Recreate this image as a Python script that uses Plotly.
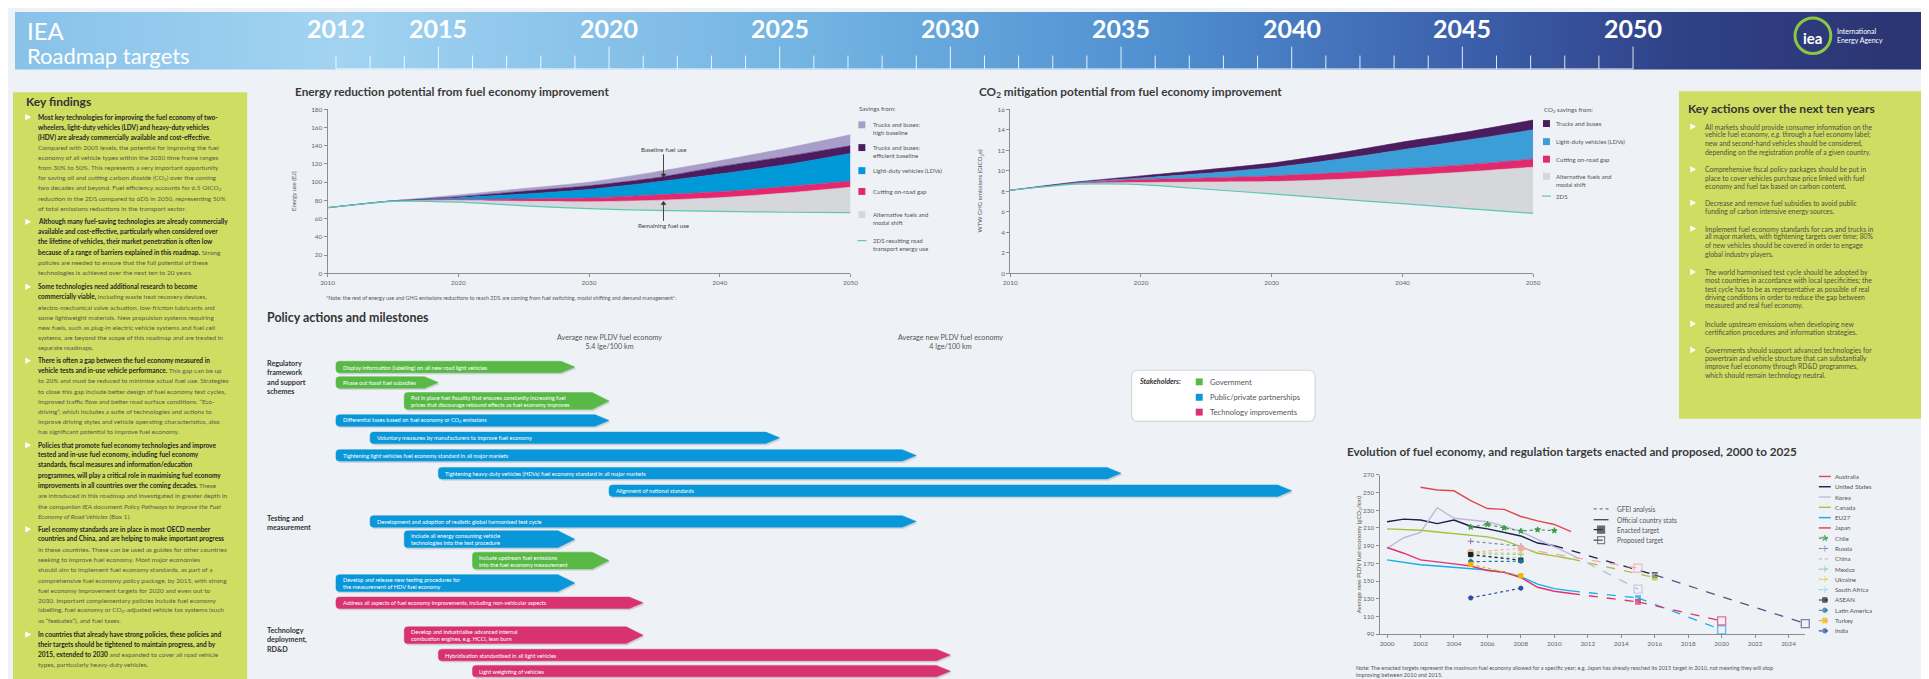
import numpy as np
import plotly.graph_objects as go

W, H = 1929, 679
OFF = 8  # the page body margin shifts the figure by 8px; coordinates below are screen pixels
FONT = "Lato, 'Open Sans', 'DejaVu Sans', sans-serif"
BG = "#eef1f6"


def px(x):
    return (x - OFF) / W


def py(y):
    return 1 - (y - OFF) / H


# ===================== DATA =====================
header_years = [2012, 2015, 2020, 2025, 2030, 2035, 2040, 2045, 2050]

energy_years = [2010, 2015, 2020, 2025, 2030, 2035, 2040, 2045, 2050]
energy_2ds_use = [72, 79, 78, 74, 71, 69, 68, 67, 66.5]
energy_alt_fuels = [0, 0.5, 2, 5, 7.5, 11, 15, 21, 28]
energy_onroad_gap = [0, 0, 1, 2.5, 4, 6, 6.5, 7, 6.5]
energy_ldv = [0, 0, 2, 5.5, 9.5, 14, 19.5, 24, 30.5]
energy_trucks_efficient = [0, 0, 1, 3, 4, 4.5, 8, 9, 8.5]
energy_trucks_high = [0, 0, 2, 3, 4, 6.5, 6.5, 9, 12]

co2_years = [2010, 2015, 2020, 2025, 2030, 2035, 2040, 2045, 2050]
co2_2ds = [8.1, 8.7, 8.65, 8.2, 7.75, 7.25, 6.8, 6.3, 5.85]
co2_alt_fuels = [0, 0.05, 0.2, 0.7, 1.2, 1.9, 2.7, 3.6, 4.5]
co2_onroad_gap = [0, 0.05, 0.3, 0.4, 0.55, 0.65, 0.7, 0.7, 0.8]
co2_ldv = [0, 0.05, 0.15, 0.45, 0.8, 1.3, 1.85, 2.4, 2.85]
co2_trucks = [0, 0.05, 0.2, 0.35, 0.45, 0.6, 0.75, 0.8, 0.95]

policy_actions = [
    "Display information (labelling) on all new road light vehicles",
    "Phase out fossil fuel subsidies",
    "Put in place fuel fiscality that ensures constantly increasing fuel<br>prices that discourage rebound effects as fuel economy improves",
    "Differential taxes based on fuel economy or CO<sub>2</sub> emissions",
    "Voluntary measures by manufacturers to improve fuel economy",
    "Tightening light vehicles fuel economy standard in all major markets",
    "Tightening heavy-duty vehicles (HDVs) fuel economy standard in all major markets",
    "Alignment of national standards",
    "Development and adoption of realistic global harmonised test cycle",
    "Include all energy consuming vehicle<br>technologies into the test procedure",
    "Include upstream fuel emissions<br>into the fuel economy measurement",
    "Develop and release new testing procedures for<br>the measurement of HDV fuel economy",
    "Address all aspects of fuel economy improvements, including non-vehicular aspects",
    "Develop and industrialise advanced internal<br>combustion engines, e.g. HCCI, lean burn",
    "Hybridisation standardised in all light vehicles",
    "Light weighting of vehicles",
]
policy_start = [2012, 2012, 2014, 2012, 2013, 2012, 2015, 2020, 2013, 2014, 2016, 2012, 2012, 2014, 2015, 2016]
policy_end = [2019, 2015, 2020, 2020, 2025, 2029, 2035, 2040, 2029, 2019, 2020, 2019, 2021, 2021, 2030, 2030]
policy_stakeholder = ["Government", "Government", "Government", "Public/private partnerships",
                      "Public/private partnerships", "Public/private partnerships",
                      "Public/private partnerships", "Public/private partnerships",
                      "Public/private partnerships", "Public/private partnerships", "Government",
                      "Public/private partnerships", "Technology improvements",
                      "Technology improvements", "Technology improvements", "Technology improvements"]
policy_groups = ["Regulatory<br>framework<br>and support<br>schemes", "Testing and<br>measurement",
                 "Technology<br>deployment,<br>RD&amp;D"]
pldv_target_years = [2020, 2030]
pldv_target_text = ["Average new PLDV fuel economy<br>5.4 lge/100 km", "Average new PLDV fuel economy<br>4 lge/100 km"]

# Evolution of fuel economy (gCO2/km)
aus_years = [2002, 2003, 2004, 2005, 2006, 2007, 2008, 2009, 2010, 2011]
aus_gco2 = [256, 253, 252, 241, 232, 231, 223, 218, 214, 206]
usa_years = [2000, 2001, 2002, 2003, 2004, 2005, 2006, 2007, 2008, 2009, 2010]
usa_gco2 = [217, 220, 219, 215, 219, 212, 209, 205, 201, 193, 190]
kor_years = [2000, 2001, 2002, 2003, 2004, 2005, 2006, 2007, 2008, 2009, 2010, 2011]
kor_gco2 = [187, 199, 205, 233, 221, 219, 217, 212, 206, 197, 189, 180]
can_years = [2000, 2001, 2002, 2003, 2004, 2005, 2006, 2007, 2008, 2009, 2010, 2011]
can_gco2 = [209, 208, 207.5, 205.5, 203.5, 201.5, 200, 196, 189, 181.5, 178.5, 175]
eu_years = [2000, 2001, 2002, 2003, 2004, 2005, 2006, 2007, 2008, 2009, 2010, 2011]
eu_gco2 = [174, 171.5, 168.5, 167, 165.5, 164.5, 162.5, 160, 155, 146.5, 141.5, 139]
jpn_years = [2000, 2001, 2002, 2003, 2004, 2005, 2006, 2007, 2008, 2009, 2010, 2011]
jpn_gco2 = [188, 181.5, 174, 172, 169.5, 167, 162, 160, 154, 143, 138.5, 136]

chile_years = [2005, 2006, 2007, 2008, 2009, 2010]
chile_gco2 = [211, 214, 210, 206.5, 208, 207]
gfei_years = [2005, 2008]
russia_gco2 = [195, 189.5]
china_gco2 = [182.5, 187]
mexico_gco2 = [181, 180]
ukraine_gco2 = [182, 181.5]
south_africa_gco2 = [178.5, 176.5]
asean_gco2 = [180, 173.5]
latam_gco2 = [172, 172.5]
turkey_gco2 = [169, 156]
india_gco2 = [131, 142]

enacted_names = ["United States", "Canada", "EU27", "Japan"]
enacted_years = [2016, 2016, 2015, 2015]
enacted_gco2 = [157, 154, 131, 126.5]
proposed_names = ["United States", "Korea", "EU27", "Japan", "China"]
proposed_years = [2025, 2015, 2020, 2020, 2015]
proposed_gco2 = [102, 141, 95, 105, 164.5]

evo_names = ["Australia", "United States", "Korea", "Canada", "EU27", "Japan", "Chile", "Russia", "China",
             "Mexico", "Ukraine", "South Africa", "ASEAN", "Latin America", "Turkey", "India"]

# ===================== STYLES =====================
evo_colors = {"Australia": "#e2474f", "United States": "#1d1f4b", "Korea": "#bdbbdc", "Canada": "#a3c23d",
              "EU27": "#1aade4", "Japan": "#e2336f", "Chile": "#3a9a4c", "Russia": "#8581b0",
              "China": "#f5a9b0", "Mexico": "#8fcfb0", "Ukraine": "#d2dc50", "South Africa": "#97d6f3",
              "ASEAN": "#1e1e1e", "Latin America": "#1d7395", "Turkey": "#f6b400", "India": "#2d4f9f"}
evo_markers = {"Chile": "star", "Russia": "cross-thin-open", "China": None, "Mexico": "cross-thin-open",
               "Ukraine": "cross-thin-open", "South Africa": "cross-thin-open", "ASEAN": "square",
               "Latin America": "circle", "Turkey": "square", "India": "circle"}
stake_colors = {"Government": "#58b947", "Public/private partnerships": "#0a97d9",
                "Technology improvements": "#d83270"}

fig = go.Figure()
shapes = []
annotations = []


def ann(x, y, text, size=7.0, color="#444", xanchor="left", yanchor="middle", xref="paper", yref="paper",
        family=FONT, **kw):
    d = dict(x=px(x) if xref == "paper" else x, y=py(y) if yref == "paper" else y, xref=xref, yref=yref,
             text=text, showarrow=False, font=dict(size=size, color=color, family=family),
             xanchor=xanchor, yanchor=yanchor, align="left", borderpad=0)
    d.update(kw)
    annotations.append(d)


def prect(x0, y0, x1, y1, color, layer="below", line=None):
    shapes.append(dict(type="rect", xref="paper", yref="paper", x0=px(x0), x1=px(x1), y0=py(y1), y1=py(y0),
                       fillcolor=color, line=line or dict(width=0), layer=layer))


def bullet(x, y):
    path = f"M {px(x - 2.6)},{py(y - 3.2)} L {px(x + 3.2)},{py(y)} L {px(x - 2.6)},{py(y + 3.2)} Z"
    shapes.append(dict(type="path", xref="paper", yref="paper", path=path, fillcolor="white",
                       line=dict(width=0), layer="above"))


# ===================== HEADER =====================
fig.add_trace(go.Scatter(
    x=[OFF, W + OFF, W + OFF, OFF, OFF], y=[OFF, OFF, 66, 66, OFF], xaxis="x", yaxis="y", mode="lines",
    fill="toself", line=dict(width=0, color="rgba(0,0,0,0)"), hoverinfo="skip", showlegend=False,
    fillgradient=dict(type="horizontal", colorscale=[
        [0.0, "#88c2e9"], [0.17, "#a2d3f1"], [0.42, "#72b3e2"], [0.6, "#4f8fd0"],
        [0.75, "#3d62ae"], [0.87, "#2f4187"], [1.0, "#2c3370"]])))

ann(19, 27, "IEA", size=24, color="white")
ann(19, 52, "Roadmap targets", size=22, color="white")
for yr in header_years:
    ann(yr, 24.5, f"<b>{yr}</b>", size=25, color="white", xanchor="center", xref="x2")
shapes.append(dict(type="line", xref="x2", yref="paper", x0=2012, x1=2050, y0=py(65.5), y1=py(65.5),
                   line=dict(color="rgba(255,255,255,0.85)", width=1), layer="above"))
for yr in range(2012, 2051):
    top = 43 if (yr in header_years and yr != 2012) else 52
    shapes.append(dict(type="line", xref="x2", yref="paper", x0=yr, x1=yr, y0=py(65.5), y1=py(top),
                       line=dict(color="rgba(255,255,255,0.85)", width=1), layer="above"))

# IEA logo
shapes.append(dict(type="circle", xref="paper", yref="paper", x0=px(1802), x1=px(1838), y0=py(50), y1=py(14),
                   line=dict(color="#8dc641", width=3), layer="above"))
ann(1820, 34, "<b>iea</b>", size=15, color="white", xanchor="center")
ann(1843, 27, "International", size=7, color="white")
ann(1843, 36, "Energy Agency", size=7, color="white")

# ===================== LEFT PANEL =====================
prect(6, 89, 242, 690, "#cfdd63")
ann(18, 98.5, "<b>Key findings</b>", size=12, color="#333")


def bd(s):
    return f'<span style="color:#262626"><b>{s}</b></span>'


left_bullets = [
    [bd("Most key technologies for improving the fuel economy of two-"),
     bd("wheelers, light-duty vehicles (LDV) and heavy-duty vehicles"),
     bd("(HDV) are already commercially available and cost-effective."),
     "Compared with 2005 levels, the potential for improving the fuel",
     "economy of all vehicle types within the 2030 time frame ranges",
     "from 30% to 50%. This represents a very important opportunity",
     "for saving oil and cutting carbon dioxide (CO<sub>2</sub>) over the coming",
     "two decades and beyond. Fuel efficiency accounts for 6.5 GtCO<sub>2</sub>",
     "reduction in the 2DS compared to 6DS in 2050, representing 50%",
     "of total emissions reductions in the transport sector."],
    [bd("Although many fuel-saving technologies are already commercially"),
     bd("available and cost-effective, particularly when considered over"),
     bd("the lifetime of vehicles, their market penetration is often low"),
     bd("because of a range of barriers explained in this roadmap.") + " Strong",
     "policies are needed to ensure that the full potential of these",
     "technologies is achieved over the next ten to 20 years."],
    [bd("Some technologies need additional research to become"),
     bd("commercially viable,") + " including waste heat recovery devices,",
     "electro-mechanical valve actuation, low-friction lubricants and",
     "some lightweight materials. New propulsion systems requiring",
     "new fuels, such as plug-in electric vehicle systems and fuel cell",
     "systems, are beyond the scope of this roadmap and are treated in",
     "separate roadmaps."],
    [bd("There is often a gap between the fuel economy measured in"),
     bd("vehicle tests and in-use vehicle performance.") + " This gap can be up",
     "to 20% and must be reduced to minimise actual fuel use. Strategies",
     "to close this gap include better design of fuel economy test cycles,",
     "improved traffic flow and better road surface conditions. \u201cEco-",
     "driving\u201d, which includes a suite of technologies and actions to",
     "improve driving styles and vehicle operating characteristics, also",
     "has significant potential to improve fuel economy."],
    [bd("Policies that promote fuel economy technologies and improve"),
     bd("tested and in-use fuel economy, including fuel economy"),
     bd("standards, fiscal measures and information/education"),
     bd("programmes, will play a critical role in maximising fuel economy"),
     bd("improvements in all countries over the coming decades.") + " These",
     "are introduced in this roadmap and investigated in greater depth in",
     "the companion IEA document <i>Policy Pathways to Improve the Fuel</i>",
     "<i>Economy of Road Vehicles</i> (Box 1)."],
    [bd("Fuel economy standards are in place in most OECD member"),
     bd("countries and China, and are helping to make important progress"),
     "in these countries. These can be used as guides for other countries",
     "seeking to improve fuel economy. Most major economies",
     "should aim to implement fuel economy standards, as part of a",
     "comprehensive fuel economy policy package, by 2015, with strong",
     "fuel economy improvement targets for 2020 and even out to",
     "2030. Important complementary policies include fuel economy",
     "labelling, fuel economy or CO<sub>2</sub>-adjusted vehicle tax systems (such",
     "as \u201cfeebates\u201d), and fuel taxes."],
    [bd("In countries that already have strong policies, these policies and"),
     bd("their targets should be tightened to maintain progress, and by"),
     bd("2015, extended to 2030") + " and expanded to cover all road vehicle",
     "types, particularly heavy-duty vehicles."],
]
left_bullet_y = [114.3, 220, 285.7, 360.3, 445.7, 530.7, 637]
for lines, y0 in zip(left_bullets, left_bullet_y):
    bullet(21, y0)
    for i, ln in enumerate(lines):
        ann(30, y0 + i * 10.25, ln, size=6.5, color="#5b5b4a")

# ===================== RIGHT PANEL =====================
prect(1685, 88, 1940, 419, "#cfdd63")
ann(1693.5, 105.7, "<b>Key actions over the next ten years</b>", size=12, color="#333")
right_bullets = [
    ["All markets should provide consumer information on the",
     "vehicle fuel economy, <i>e.g.</i> through a fuel economy label;",
     "new and second-hand vehicles should be considered,",
     "depending on the registration profile of a given country."],
    ["Comprehensive fiscal policy packages should be put in",
     "place to cover vehicles purchase price linked with fuel",
     "economy and fuel tax based on carbon content."],
    ["Decrease and remove fuel subsidies to avoid public",
     "funding of carbon intensive energy sources."],
    ["Implement fuel economy standards for cars and trucks in",
     "all major markets, with tightening targets over time; 80%",
     "of new vehicles should be covered in order to engage",
     "global industry players."],
    ["The world harmonised test cycle should be adopted by",
     "most countries in accordance with local specificities; the",
     "test cycle has to be as representative as possible of real",
     "driving conditions in order to reduce the gap between",
     "measured and real fuel economy."],
    ["Include upstream emissions when developing new",
     "certification procedures and information strategies."],
    ["Governments should support advanced technologies for",
     "powertrain and vehicle structure that can substantially",
     "improve fuel economy through RD&amp;D programmes,",
     "which should remain technology neutral."],
]
right_bullet_y = [123.8, 167, 200.8, 226.8, 270.7, 323, 349.5]
for lines, y0 in zip(right_bullets, right_bullet_y):
    bullet(1699, y0)
    for i, ln in enumerate(lines):
        ann(1710, y0 + i * 8.45, ln, size=6.8, color="#4f4f42")


# ===================== STACKED AREA CHARTS =====================
def stacked(years, base, bands, colors, xa, ya, teal):
    cum = np.array(base, dtype=float)
    fig.add_trace(go.Scatter(x=years, y=cum, xaxis=xa, yaxis=ya, mode="lines",
                             line=dict(width=0, color="rgba(0,0,0,0)", shape="spline", smoothing=0.6),
                             hoverinfo="skip", showlegend=False))
    for band, col in zip(bands, colors):
        cum = cum + np.array(band, dtype=float)
        fig.add_trace(go.Scatter(x=years, y=cum, xaxis=xa, yaxis=ya, mode="lines", fill="tonexty",
                                 fillcolor=col, line=dict(width=0.6, color=col, shape="spline", smoothing=0.6),
                                 hoverinfo="skip", showlegend=False))
    fig.add_trace(go.Scatter(x=years, y=base, xaxis=xa, yaxis=ya, mode="lines",
                             line=dict(width=1.2, color=teal, shape="spline", smoothing=0.6),
                             hoverinfo="skip", showlegend=False))


C_GREY, C_PINK, C_BLUE, C_DARK, C_LIGHT, C_TEAL = "#d5d7da", "#e4276f", "#0099d8", "#4c1d5e", "#a99dc9", "#5ec6b8"
stacked(energy_years, energy_2ds_use,
        [energy_alt_fuels, energy_onroad_gap, energy_ldv, energy_trucks_efficient, energy_trucks_high],
        [C_GREY, C_PINK, C_BLUE, C_DARK, C_LIGHT], "x3", "y3", C_TEAL)
stacked(co2_years, co2_2ds, [co2_alt_fuels, co2_onroad_gap, co2_ldv, co2_trucks],
        [C_GREY, "#e12a6e", "#3c9ed8", C_DARK], "x4", "y4", C_TEAL)

ann(289, 88.6, "<b>Energy reduction potential from fuel economy improvement</b>", size=11.8, color="#3a3a3a")
ann(979, 88.6, "<b>CO<sub>2</sub> mitigation potential from fuel economy improvement</b>", size=11.8,
    color="#3a3a3a")
ann(288, 189, "Energy use (EJ)", size=6, color="#555", xanchor="center", textangle=-90)
ann(981, 189, "WTW GHG emissions (GtCO<sub>2</sub>e)", size=6, color="#555", xanchor="center", textangle=-90)
ann(320, 296.5, "*Note: the rest of energy use and GHG emissions reductions to reach 2DS are coming from fuel "
                "switching, modal shifting and demand management*.", size=5.4, color="#555")

# energy chart call-outs
ann(2035.7, 136, "Baseline fuel use", size=6.2, color="#444", xanchor="center", xref="x3", yref="y3")
ann(2035.7, 52, "Remaining fuel use", size=6.2, color="#444", xanchor="center", xref="x3", yref="y3")
for tail, tip, sym in [(130.5, 108, "triangle-down"), (57.5, 76.5, "triangle-up")]:
    shapes.append(dict(type="line", xref="x3", yref="y3", x0=2035.7, x1=2035.7, y0=tail, y1=tip,
                       line=dict(color="#333", width=0.9), layer="above"))
    fig.add_trace(go.Scatter(x=[2035.7], y=[tip], xaxis="x3", yaxis="y3", mode="markers",
                             marker=dict(symbol=sym, size=5, color="#333"), cliponaxis=False,
                             hoverinfo="skip", showlegend=False))

# energy legend
ann(858, 106, "Savings from:", size=6.2, color="#555")
e_leg = [(122, C_LIGHT, "Trucks and buses:<br>high baseline"),
         (145, C_DARK, "Trucks and buses:<br>efficient baseline"),
         (168.3, C_BLUE, "Light-duty vehicles (LDVs)"),
         (189.3, C_PINK, "Cutting on-road gap"),
         (212.7, C_GREY, "Alternative fuels and<br>modal shift")]
for yy, col, txt in e_leg:
    prect(858, yy - 3.5, 865, yy + 3.5, col)
    if "<br>" in txt:
        ann(871.5, yy - 4.5, txt, size=6.1, color="#555", yanchor="top")
    else:
        ann(871.5, yy, txt, size=6.1, color="#555")
shapes.append(dict(type="line", xref="paper", yref="paper", x0=px(857), x1=px(866), y0=py(239), y1=py(239),
                   line=dict(color=C_TEAL, width=1.2)))
ann(871.5, 234.5, "2DS resulting road<br>transport energy use", size=6.1, color="#555", yanchor="top")

# co2 legend
ann(1548, 107.3, "CO<sub>2</sub> savings from:", size=6.2, color="#555")
c_leg = [(120.7, C_DARK, "Trucks and buses"), (139, "#3c9ed8", "Light-duty vehicles (LDVs)"),
         (156.7, "#e12a6e", "Cutting on-road gap"), (174, C_GREY, "Alternative fuels and<br>modal shift")]
for yy, col, txt in c_leg:
    prect(1548, yy - 3.5, 1555, yy + 3.5, col)
    if "<br>" in txt:
        ann(1560, yy - 4.5, txt, size=6.1, color="#555", yanchor="top")
    else:
        ann(1560, yy, txt, size=6.1, color="#555")
shapes.append(dict(type="line", xref="paper", yref="paper", x0=px(1547), x1=px(1556), y0=py(194), y1=py(194),
                   line=dict(color=C_TEAL, width=1.2)))
ann(1560, 194, "2DS", size=6.1, color="#555")

# ===================== POLICY ACTIONS =====================
ann(261, 316.7, "<b>Policy actions and milestones</b>", size=12.4, color="#333")
for yr, txt in zip(pldv_target_years, pldv_target_text):
    ann(yr, 341.5, txt, size=7.2, color="#555", xanchor="center", xref="x2", align="center")

policy_row_y = [366.7, 382.3, 401, 420.7, 438.3, 456, 474, 491.7, 522.7, 540.7, 562.3, 585, 605, 637.7,
                657.7, 674]
group_label_y = [358, 514.4, 627.4]
for lbl, yy in zip(policy_groups, group_label_y):
    ann(261, yy, f"<b>{lbl}</b>", size=7.2, color="#333", yanchor="top")

PX_PER_YEAR = 34.4
for txt, x0, x1, who, yc in zip(policy_actions, policy_start, policy_end, policy_stakeholder, policy_row_y):
    two = "<br>" in txt
    h = 17 if two else 11.6
    tip = (17 if two else 14) / PX_PER_YEAR
    rx, ry = 0.1, 3.0
    top, bot = yc - h / 2, yc + h / 2
    xs = np.array([x0 + rx, x1 - tip, x1, x1 - tip, x0 + rx, x0 + rx * 0.25, x0, x0, x0 + rx * 0.25, x0 + rx])
    ys = np.array([top, top, yc, bot, bot, bot - ry * 0.25, bot - ry, top + ry, top + ry * 0.25, top])
    fig.add_trace(go.Scatter(x=xs + 0.04, y=ys + 1.8, xaxis="x2", yaxis="y2", mode="lines", fill="toself",
                             fillcolor="rgba(60,60,80,0.16)", line=dict(width=0, color="rgba(0,0,0,0)"),
                             hoverinfo="skip", showlegend=False))
    col = stake_colors[who]
    fig.add_trace(go.Scatter(x=xs, y=ys, xaxis="x2", yaxis="y2", mode="lines", fill="toself",
                             fillcolor=col, line=dict(width=0.5, color=col),
                             hoverinfo="skip", showlegend=False))
    ann(x0 + 6 / PX_PER_YEAR, yc, txt, size=5.6, color="white", xref="x2")

# stakeholders box
bx0, by0, bx1, by1, r = 1133.3, 370, 1318.3, 421.7, 7
path = (f"M {px(bx0 + r)},{py(by0)} L {px(bx1 - r)},{py(by0)} Q {px(bx1)},{py(by0)} {px(bx1)},{py(by0 + r)} "
        f"L {px(bx1)},{py(by1 - r)} Q {px(bx1)},{py(by1)} {px(bx1 - r)},{py(by1)} "
        f"L {px(bx0 + r)},{py(by1)} Q {px(bx0)},{py(by1)} {px(bx0)},{py(by1 - r)} "
        f"L {px(bx0)},{py(by0 + r)} Q {px(bx0)},{py(by0)} {px(bx0 + r)},{py(by0)} Z")
shapes.append(dict(type="path", xref="paper", yref="paper", path=path, fillcolor="white",
                   line=dict(color="#d4d7de", width=1.2), layer="below"))
ann(1139.3, 381.7, "<b><i>Stakeholders:</i></b>", size=7.2, color="#333")
for i, (name, col) in enumerate(stake_colors.items()):
    yy = [381.7, 397.3, 412.3][i]
    prect(1198, yy - 3.5, 1205, yy + 3.5, col)
    ann(1211.5, yy, name, size=7.6, color="#555")

# ===================== EVOLUTION CHART =====================
ann(1349.6, 451.5, "<b>Evolution of fuel economy, and regulation targets enacted and proposed, 2000 to 2025</b>",
    size=11.7, color="#3a3a3a")
ann(1362.5, 556, "Average new PLDV fuel economy (gCO<sub>2</sub>/km)", size=6, color="#555", xanchor="center",
    textangle=-90)
ann(1358.8, 670.7, "Note: The enacted targets represent the maximum fuel economy allowed for a specific year; "
                   "e.g. Japan has already reached its 2015 target in 2010, not meaning they will stop",
    size=5.5, color="#555")
ann(1358.8, 678.3, "improving between 2010 and 2015.", size=5.5, color="#555")

official = {"Australia": (aus_years, aus_gco2), "United States": (usa_years, usa_gco2),
            "Korea": (kor_years, kor_gco2), "Canada": (can_years, can_gco2), "EU27": (eu_years, eu_gco2),
            "Japan": (jpn_years, jpn_gco2)}
gfei = {"Chile": (chile_years, chile_gco2), "Russia": (gfei_years, russia_gco2),
        "China": (gfei_years, china_gco2), "Mexico": (gfei_years, mexico_gco2),
        "Ukraine": (gfei_years, ukraine_gco2), "South Africa": (gfei_years, south_africa_gco2),
        "ASEAN": (gfei_years, asean_gco2), "Latin America": (gfei_years, latam_gco2),
        "Turkey": (gfei_years, turkey_gco2), "India": (gfei_years, india_gco2)}

last_point = {}
for name, (xs, ys) in official.items():
    col = evo_colors[name]
    fig.add_trace(go.Scatter(x=xs, y=ys, xaxis="x5", yaxis="y5", mode="lines",
                             line=dict(color=col, width=1.4), hoverinfo="skip", showlegend=False))
    last_point[name] = (xs[-1], ys[-1])
for name, (xs, ys) in gfei.items():
    col = evo_colors[name]
    sym = evo_markers[name]
    mk = dict(symbol=sym or "circle", size=4.2 if sym else 0, color=col, line=dict(width=1, color=col))
    fig.add_trace(go.Scatter(x=xs, y=ys, xaxis="x5", yaxis="y5", mode="lines+markers",
                             line=dict(color=col, width=1.2, dash="dot"), marker=mk, cliponaxis=False,
                             hoverinfo="skip", showlegend=False))
    last_point[name] = (xs[-1], ys[-1])
for name, yr, val in zip(enacted_names, enacted_years, enacted_gco2):
    col = evo_colors[name]
    x0, y0 = last_point[name]
    fig.add_trace(go.Scatter(x=[x0, yr], y=[y0, val], xaxis="x5", yaxis="y5", mode="lines+markers",
                             line=dict(color=col, width=1.3, dash="dash"),
                             marker=dict(symbol="square", size=[0, 7], color=col), cliponaxis=False,
                             hoverinfo="skip", showlegend=False))
    last_point[name] = (yr, val)
for name, yr, val in zip(proposed_names, proposed_years, proposed_gco2):
    col = evo_colors[name]
    if name == "United States":
        col = "#5d4f8a"
    x0, y0 = last_point[name]
    fig.add_trace(go.Scatter(x=[x0, yr], y=[y0, val], xaxis="x5", yaxis="y5", mode="lines+markers",
                             line=dict(color=col, width=1.3, dash="dash"),
                             marker=dict(symbol="square-open", size=[0, 8], color=col, line=dict(width=1.3)),
                             cliponaxis=False, hoverinfo="skip", showlegend=False))

# evolution legends (drawn on the pixel canvas)
for i, name in enumerate(evo_names):
    yy = 477.3 + i * 10.4
    col = evo_colors[name]
    is_off = name in official
    sym = evo_markers.get(name)
    fig.add_trace(go.Scatter(x=[1826, 1832, 1838], y=[yy, yy, yy], xaxis="x", yaxis="y",
                             mode="lines+markers" if sym else "lines",
                             line=dict(color=col, width=1.4 if is_off else 1.2, dash="solid" if is_off else "dot"),
                             marker=dict(symbol=sym or "circle", size=[0, 4.5, 0], color=col,
                                         line=dict(width=1, color=col)),
                             hoverinfo="skip", showlegend=False))
    ann(1841.5, yy, name, size=6.2, color="#555")

style_leg = [("GFEI analysis", "dot", None, "#77769a"), ("Official country stats", "solid", None, "#444"),
             ("Enacted target", "dash", "square", "#333"), ("Proposed target", "dash", "square-open", "#555")]
for i, (lbl, dash, sym, col) in enumerate(style_leg):
    yy = [510, 521, 531, 541.7][i]
    fig.add_trace(go.Scatter(x=[1599, 1606.5, 1614], y=[yy, yy, yy], xaxis="x", yaxis="y",
                             mode="lines+markers" if sym else "lines",
                             line=dict(color=col, width=1.3, dash=dash),
                             marker=dict(symbol=sym or "circle", size=[0, 7, 0], color=col,
                                         line=dict(width=1.2, color=col)),
                             hoverinfo="skip", showlegend=False))
    ann(1621.7, yy, lbl, size=6.6, color="#555")

# ===================== AXES =====================
tickfont = dict(size=6.4, color="#666", family=FONT)
axis_common = dict(showgrid=False, zeroline=False, showline=True, linecolor="#8d8d8d", linewidth=1,
                   ticks="outside", ticklen=3, tickcolor="#8d8d8d", tickfont=tickfont, fixedrange=True)
hidden = dict(visible=False, fixedrange=True, showgrid=False, zeroline=False)

layout_axes = dict(
    xaxis=dict(domain=[0, 1], range=[OFF, W + OFF], anchor="y", **hidden),
    yaxis=dict(domain=[0, 1], range=[H + OFF, OFF], anchor="x", **hidden),
    xaxis2=dict(domain=[px(297.1), px(1673.1)], range=[2011, 2051], anchor="y2", **hidden),
    yaxis2=dict(domain=[0, 1], range=[H + OFF, OFF], anchor="x2", **hidden),
    xaxis3=dict(domain=[px(323), px(850)], range=[2010, 2050], anchor="y3",
                tickvals=[2010, 2020, 2030, 2040, 2050], **axis_common),
    yaxis3=dict(domain=[py(272), py(106.3)], range=[0, 180], anchor="x3",
                tickvals=list(range(0, 181, 20)), **axis_common),
    xaxis4=dict(domain=[px(1011), px(1538)], range=[2010, 2050], anchor="y4",
                tickvals=[2010, 2020, 2030, 2040, 2050], **axis_common),
    yaxis4=dict(domain=[py(272), py(106.3)], range=[0, 16], anchor="x4",
                tickvals=list(range(0, 17, 2)), **axis_common),
    xaxis5=dict(domain=[px(1383.2), px(1812.3)], range=[1999.55, 2025], anchor="y5",
                tickvals=list(range(2000, 2025, 2)), **axis_common),
    yaxis5=dict(domain=[py(636.7), py(475.7)], range=[90, 270], anchor="x5",
                tickvals=list(range(90, 271, 20)), **axis_common),
)

fig.update_layout(width=W, height=H, margin=dict(l=0, r=0, t=0, b=0), paper_bgcolor=BG,
                  plot_bgcolor="rgba(0,0,0,0)", showlegend=False, font=dict(family=FONT),
                  shapes=shapes, annotations=annotations, hovermode=False, **layout_axes)

fig.write_html("out.html", config={"displayModeBar": False})
